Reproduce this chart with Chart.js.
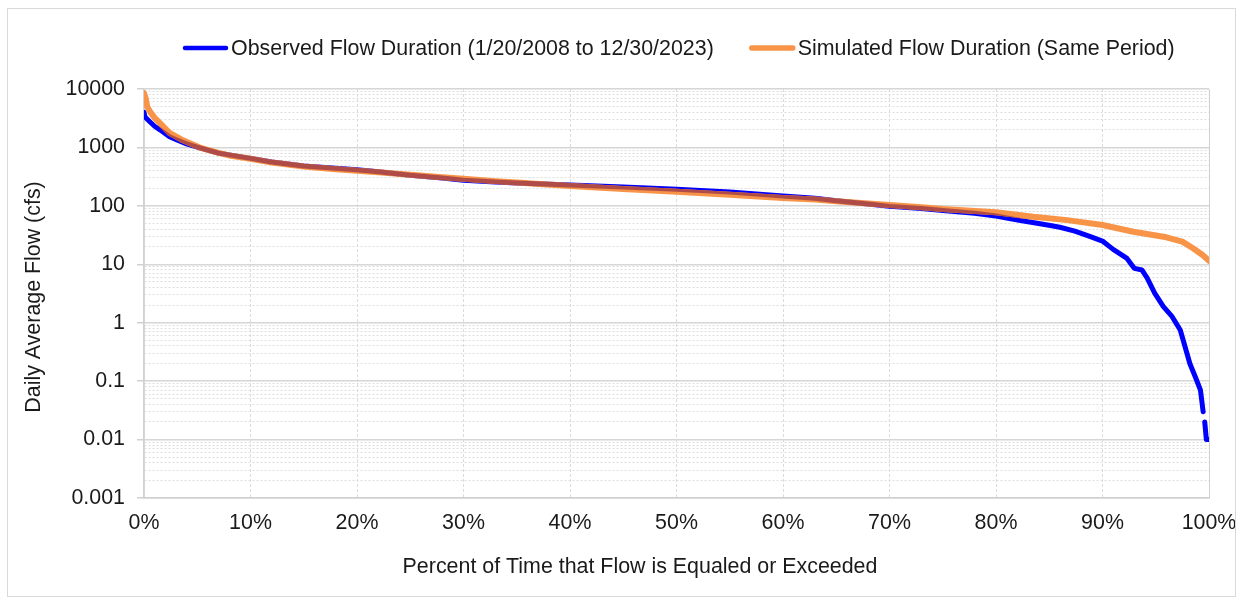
<!DOCTYPE html>
<html>
<head>
<meta charset="utf-8">
<script src="https://cdn.jsdelivr.net/npm/chart.js@4.4.1/dist/chart.umd.min.js"></script>
<style>
  html, body { margin: 0; padding: 0; background: #fff; }
  #wrap { position: relative; width: 1242px; height: 604px; }
  #frame { position: absolute; left: 7px; top: 8px; width: 1227px; height: 587px; border: 1px solid #d9d9d9; pointer-events: none; }
  canvas { display: block; }
</style>
</head>
<body>
<div id="wrap">
  <canvas id="c" width="1242" height="604"></canvas>
  <div id="frame"></div>
</div>
<script>
// ---- Data ----
const obsPct  = [0, 0.1, 0.5, 1.0, 1.5, 2.4, 3.1, 4.0, 5.0, 6.0, 7.0, 8.0, 10, 12, 15, 18, 20, 22, 25, 28, 30, 33, 35, 40, 45, 50, 55, 60, 63, 65, 68, 70, 73, 75, 78, 80, 81, 82.3, 84, 85.1, 86, 87.4, 88.8, 90, 91, 92.3, 93, 93.7, 94.2, 94.9, 95.7, 96.5, 97.3, 97.7, 98.2, 98.7, 99.2, 99.45, 99.5, 99.6, 99.75, 100];
const obsFlow = [4000, 3300, 2800, 2300, 2000, 1520, 1340, 1150, 1010, 900, 800, 745, 650, 565, 480, 440, 415, 385, 335, 300, 275, 255, 245, 228, 210, 192, 172, 148, 135, 122, 108, 98, 90, 83, 75, 67, 62, 56, 50, 46, 43, 37, 30, 25, 18, 12.6, 8.5, 8, 5.8, 3.2, 1.9, 1.3, 0.75, 0.42, 0.2, 0.12, 0.07, 0.03, null, 0.02, 0.01, 0.01];

const simPct  = [0, 0.15, 0.3, 0.56, 1.0, 1.5, 2.4, 3.5, 5.4, 7, 8, 10, 12, 15, 18, 20, 22, 25, 28, 30, 33, 35, 40, 45, 50, 55, 60, 63, 65, 68, 70, 73, 75, 78, 80, 83.5, 86.7, 90, 92.9, 96, 97.5, 98.5, 99.4, 100];
const simFlow = [8500, 7000, 5000, 4100, 3200, 2600, 1770, 1370, 970, 810, 730, 640, 550, 470, 425, 400, 375, 340, 308, 290, 265, 250, 218, 195, 174, 155, 136, 128, 120, 110, 103, 95, 88, 82, 78, 65, 57, 47, 36, 29, 24.4, 18.8, 14.4, 11.5];

const xTickLabels = ['0%', '10%', '20%', '30%', '40%', '50%', '60%', '70%', '80%', '90%', '100%'];
const yTickLabels = ['0.001', '0.01', '0.1', '1', '10', '100', '1000', '10000'];
const seriesNames = ['Observed Flow Duration (1/20/2008 to 12/30/2023)', 'Simulated Flow Duration (Same Period)'];

// ---- Styles ----
const BLUE = '#0000ff';
const ORANGE = '#f89448';
const OVERLAP = '#b04c48';
const FONT = '"Liberation Sans", Arial, sans-serif';
const TEXT = '#1a1a1a';
const FS = 21.4;

const toXY = (xs, ys) => xs.map((x, i) => ({ x: x, y: ys[i] }));

// y ticks at 1..9 x 10^n
function logTicks() {
  const t = [];
  for (let e = -3; e <= 4; e++) {
    const maxS = e === 4 ? 1 : 9;
    for (let s = 1; s <= maxS; s++) {
      const v = parseFloat((s * Math.pow(10, e)).toPrecision(6));
      t.push({ value: v, major: s === 1 });
    }
  }
  return t;
}

const overlapPlugin = {
  id: 'overlap',
  afterDatasetsDraw(chart) {
    const mBlue = chart.getDatasetMeta(0);
    const mOrange = chart.getDatasetMeta(1);
    const off = document.createElement('canvas');
    off.width = chart.canvas.width;
    off.height = chart.canvas.height;
    const o = off.getContext('2d');
    const r = chart.currentDevicePixelRatio || 1;
    o.setTransform(r, 0, 0, r, 0, 0);
    mOrange.dataset.draw(o, chart.chartArea);
    o.globalCompositeOperation = 'destination-in';
    mBlue.dataset.draw(o, chart.chartArea);
    o.globalCompositeOperation = 'source-in';
    o.setTransform(1, 0, 0, 1, 0, 0);
    o.fillStyle = OVERLAP;
    o.fillRect(0, 0, off.width, off.height);
    const ctx = chart.ctx;
    ctx.save();
    ctx.setTransform(1, 0, 0, 1, 0, 0);
    ctx.drawImage(off, 0, 0);
    ctx.restore();
  }
};

const textPlugin = {
  id: 'texts',
  afterDraw(chart) {
    const ctx = chart.ctx;
    ctx.save();
    ctx.fillStyle = TEXT;
    ctx.font = FS + 'px ' + FONT;
    // x axis title
    ctx.textAlign = 'center';
    ctx.textBaseline = 'alphabetic';
    ctx.fillText('Percent of Time that Flow is Equaled or Exceeded', 640, 573);
    // y axis title
    ctx.save();
    ctx.translate(40, 297);
    ctx.rotate(-Math.PI / 2);
    ctx.fillText('Daily Average Flow (cfs)', 0, 0);
    ctx.restore();
    // legend
    const colors = [BLUE, ORANGE];
    const widths = [4.5, 5.5];
    let x = 183;
    const yLine = 48, yText = 55;
    ctx.textAlign = 'left';
    chart.data.datasets.forEach((ds, i) => {
      ctx.strokeStyle = colors[i];
      ctx.lineWidth = widths[i];
      ctx.lineCap = 'round';
      ctx.beginPath();
      ctx.moveTo(x + 2, yLine);
      ctx.lineTo(x + 43, yLine);
      ctx.stroke();
      ctx.fillStyle = TEXT;
      ctx.fillText(ds.label, x + 48, yText);
      x += 48 + ctx.measureText(ds.label).width + 36;
    });
    ctx.restore();
  }
};

new Chart(document.getElementById('c'), {
  type: 'line',
  data: {
    datasets: [
      {
        label: seriesNames[0],
        data: toXY(obsPct, obsFlow),
        borderColor: BLUE,
        backgroundColor: BLUE,
        borderWidth: 5,
        pointRadius: 0,
        tension: 0,
        spanGaps: false,
        borderJoinStyle: 'round',
        borderCapStyle: 'round',
        order: 2
      },
      {
        label: seriesNames[1],
        data: toXY(simPct, simFlow),
        borderColor: ORANGE,
        backgroundColor: ORANGE,
        borderWidth: 6,
        pointRadius: 0,
        tension: 0,
        borderJoinStyle: 'round',
        borderCapStyle: 'round',
        order: 1
      }
    ]
  },
  options: {
    responsive: false,
    animation: false,
    devicePixelRatio: 1,
    layout: { padding: { top: 89, right: 33, bottom: 0, left: 0 } },
    plugins: { legend: { display: false }, tooltip: { enabled: false }, title: { display: false } },
    scales: {
      x: {
        type: 'linear',
        min: 0,
        max: 100,
        afterFit(s) { s.height = 106; s.paddingRight = 0; s.paddingLeft = 0; },
        ticks: {
          stepSize: 10,
          autoSkip: false,
          maxRotation: 0,
          padding: 12,
          color: TEXT,
          font: { family: FONT, size: FS },
          callback: (v) => xTickLabels[Math.round(v / 10)]
        },
        grid: {
          drawTicks: false,
          color: (c) => (c.tick && c.tick.value === 100) ? '#d0d0d0' : '#dcdcdc',
          lineWidth: 1
        },
        border: {
          display: true,
          color: '#d0d0d0',
          width: 1.5,
          dash: (c) => (c.tick && (c.tick.value === 100 || c.tick.value === 0)) ? [] : [3, 2]
        }
      },
      y: {
        type: 'logarithmic',
        min: 0.001,
        max: 10000,
        afterFit(s) { s.width = 144; s.paddingTop = 0; s.paddingBottom = 0; },
        afterBuildTicks(s) { s.ticks = logTicks(); },
        ticks: {
          autoSkip: false,
          padding: 12,
          color: TEXT,
          font: { family: FONT, size: FS },
          callback: (v) => {
            const l = Math.log10(v);
            const k = Math.round(l);
            return Math.abs(l - k) < 1e-6 ? yTickLabels[k + 3] : '';
          }
        },
        grid: {
          drawTicks: true,
          tickLength: 7,
          tickColor: (c) => (c.tick && c.tick.major) ? '#d0d0d0' : 'rgba(0,0,0,0)',
          color: (c) => (c.tick && c.tick.major) ? '#d6d6d6' : '#dedede',
          lineWidth: (c) => (c.tick && c.tick.major) ? 1.5 : 1
        },
        border: {
          display: true,
          color: '#d0d0d0',
          width: 1.5,
          dash: (c) => (c.tick && c.tick.major) ? [] : [2, 2]
        }
      }
    }
  },
  plugins: [overlapPlugin, textPlugin]
});
</script>
</body>
</html>
